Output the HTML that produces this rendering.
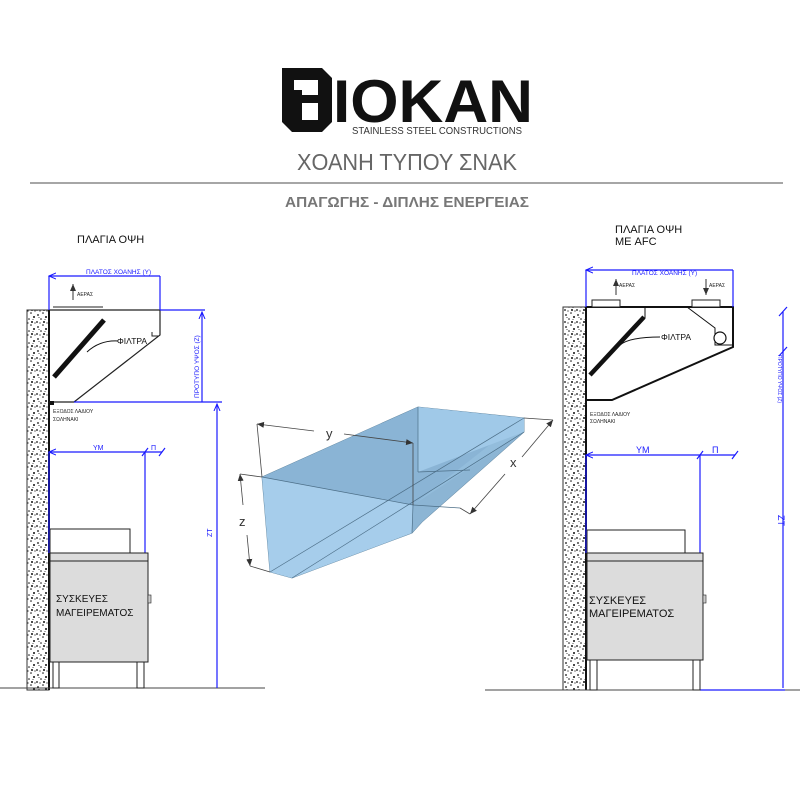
<!DOCTYPE html>
<html><head><meta charset="utf-8"><style>
body{margin:0;background:#fff}
svg{display:block}
text{font-family:"Liberation Sans","DejaVu Sans",sans-serif}
</style></head><body>
<svg width="800" height="800" viewBox="0 0 800 800" xmlns="http://www.w3.org/2000/svg">
<defs>
<pattern id="sp" width="12" height="12" patternUnits="userSpaceOnUse">
<rect width="12" height="12" fill="#fff"/>
<circle cx="2" cy="3" r="0.9" fill="#111"/><circle cx="7" cy="1" r="0.8" fill="#111"/>
<circle cx="10" cy="5" r="1" fill="#111"/><circle cx="5" cy="7" r="0.8" fill="#111"/>
<circle cx="1" cy="10" r="0.9" fill="#111"/><circle cx="8" cy="10" r="1" fill="#111"/>
<circle cx="11" cy="11" r="0.6" fill="#111"/><circle cx="4" cy="11" r="0.6" fill="#111"/>
<circle cx="3" cy="5.5" r="0.5" fill="#111"/><circle cx="9" cy="7.5" r="0.5" fill="#111"/>
</pattern>
<marker id="ab" markerWidth="8" markerHeight="8" refX="7" refY="4" orient="auto-start-reverse" markerUnits="userSpaceOnUse"><path d="M0,1 L7,4 L0,7" fill="none" stroke="#1a1aff" stroke-width="1"/></marker>
<marker id="ak" markerWidth="8" markerHeight="8" refX="7" refY="4" orient="auto-start-reverse" markerUnits="userSpaceOnUse"><path d="M0,1 L7,4 L0,7 z" fill="#333"/></marker>
</defs>

<!-- Logo -->
<path d="M282,68 H322 L332,78 V122 L322,132 H292 L282,122 Z" fill="#111"/>
<rect x="294" y="80" width="8" height="10" fill="#fff"/>
<path d="M302,80 H318 V95 H302Z M302,103 H318 V120 H302Z" fill="#fff"/>
<text x="333" y="122" font-size="60" font-weight="bold" fill="#111" textLength="200" lengthAdjust="spacingAndGlyphs">IOKAN</text>
<text x="352" y="134" font-size="10" fill="#333" textLength="170" lengthAdjust="spacingAndGlyphs">STAINLESS STEEL CONSTRUCTIONS</text>
<text x="407" y="170" font-size="23" fill="#666" text-anchor="middle" textLength="220" lengthAdjust="spacingAndGlyphs">ΧΟΑΝΗ ΤΥΠΟΥ ΣΝΑΚ</text>
<line x1="30" y1="183" x2="783" y2="183" stroke="#888" stroke-width="1.5"/>
<text x="407" y="207" font-size="15" font-weight="bold" fill="#777" text-anchor="middle" textLength="244" lengthAdjust="spacingAndGlyphs">ΑΠΑΓΩΓΗΣ - ΔΙΠΛΗΣ ΕΝΕΡΓΕΙΑΣ</text>

<!-- LEFT DRAWING -->
<text x="77" y="243" font-size="11" fill="#111">ΠΛΑΓΙΑ ΟΨΗ</text>
<rect x="27" y="310" width="22" height="380" fill="url(#sp)" stroke="#333"/>
<line x1="49" y1="310" x2="49" y2="690" stroke="#111" stroke-width="2"/>
<line x1="0" y1="688" x2="265" y2="688" stroke="#444"/>
<path d="M49,310 H160 V335 L74,402 H49" fill="none" stroke="#222" stroke-width="1.2"/>
<path d="M152,332 V336 H158" fill="none" stroke="#222"/>
<line x1="54" y1="377" x2="104" y2="320" stroke="#111" stroke-width="5"/>
<path d="M87,352 Q100,340 118,341" fill="none" stroke="#111"/>
<text x="117" y="344" font-size="8.5" fill="#111">ΦΙΛΤΡΑ</text>
<line x1="53" y1="307" x2="103" y2="307" stroke="#222"/>
<line x1="73" y1="300" x2="73" y2="284" stroke="#333" marker-end="url(#ak)"/>
<text x="77" y="296" font-size="5" fill="#222">ΑΕΡΑΣ</text>
<text x="53" y="413" font-size="5" fill="#222">ΕΞΟΔΟΣ ΛΑΔΙΟΥ</text>
<text x="53" y="421" font-size="5" fill="#222">ΣΩΛΗΝΑΚΙ</text>
<rect x="50" y="401" width="4" height="4" fill="#111"/>
<g stroke="#1a1aff" fill="none" stroke-width="1.2">
<line x1="49" y1="276" x2="160" y2="276" marker-start="url(#ab)"/>
<line x1="49" y1="276" x2="49" y2="310"/><line x1="160" y1="276" x2="160" y2="310"/>
<line x1="160" y1="310" x2="205" y2="310"/><line x1="74" y1="402" x2="222" y2="402"/>
<line x1="202" y1="312" x2="202" y2="402" marker-start="url(#ab)"/>
<line x1="217" y1="404" x2="217" y2="688" marker-start="url(#ab)"/>
<line x1="49" y1="452" x2="145" y2="452" marker-start="url(#ab)"/>
<line x1="145" y1="452" x2="162" y2="452"/>
<line x1="145" y1="452" x2="145" y2="553"/><line x1="49" y1="452" x2="49" y2="553"/>
<line x1="142" y1="456" x2="148" y2="448"/><line x1="159" y1="456" x2="165" y2="448"/>
</g>
<text x="86" y="274" font-size="6.5" fill="#1a1aff">ΠΛΑΤΟΣ ΧΟΑΝΗΣ (Υ)</text>
<text transform="translate(199,398) rotate(-90)" font-size="6.5" fill="#1a1aff">ΠΡΟΤΥΠΟ ΥΨΟΣ (Ζ)</text>
<text transform="translate(212,537) rotate(-90)" font-size="7" fill="#1a1aff">ΖΤ</text>
<text x="93" y="450" font-size="7" fill="#1a1aff">ΥΜ</text>
<text x="151" y="450" font-size="7" fill="#1a1aff">Π</text>
<rect x="50" y="529" width="80" height="24" fill="#fff" stroke="#222"/>
<rect x="50" y="553" width="98" height="109" fill="#dcdcdc" stroke="#222"/>
<line x1="50" y1="561" x2="148" y2="561" stroke="#222"/>
<rect x="148" y="595" width="3" height="8" fill="#ccc" stroke="#222" stroke-width="0.6"/>
<rect x="53" y="662" width="6" height="26" fill="#fff" stroke="#222"/>
<rect x="137" y="662" width="7" height="26" fill="#fff" stroke="#222"/>
<text x="56" y="602" font-size="10" fill="#111">ΣΥΣΚΕΥΕΣ</text>
<text x="56" y="616" font-size="10" fill="#111">ΜΑΓΕΙΡΕΜΑΤΟΣ</text>

<!-- CENTER 3D -->
<polygon points="262,477 418,407 524,418 524,432 422,522 412,533 292,578 270,572" fill="#93bddc" stroke="#5a7f99" stroke-width="0.8"/>
<polygon points="262,477 418,407 524,418 413,505" fill="#8ab4d5"/>
<polygon points="418,407 524,418 524,432 418,472" fill="#a0c9e8"/>
<polygon points="262,477 413,505 412,533 292,578 270,572" fill="#a6cdeb"/>
<polygon points="413,505 524,432 422,522 412,533" fill="#8cb5d4"/>
<g stroke="#4d6f88" stroke-width="0.7" fill="none">
<line x1="262" y1="477" x2="413" y2="505"/><line x1="413" y1="505" x2="412" y2="533"/>
<line x1="418" y1="407" x2="418" y2="472"/><line x1="418" y1="472" x2="470" y2="470"/>
<line x1="270" y1="572" x2="524" y2="418"/><line x1="292" y1="578" x2="524" y2="432"/>
<line x1="413" y1="505" x2="460" y2="508"/>
</g>
<g stroke="#444" stroke-width="0.8" fill="none">
<line x1="257" y1="424" x2="262" y2="477"/>
<line x1="257" y1="424" x2="314" y2="431" marker-start="url(#ak)"/>
<line x1="344" y1="434" x2="413" y2="443" marker-end="url(#ak)"/>
<line x1="413" y1="443" x2="413" y2="505"/>
<line x1="524" y1="418" x2="553" y2="420"/><line x1="460" y1="508" x2="470" y2="514"/>
<line x1="470" y1="514" x2="505" y2="474" marker-start="url(#ak)"/>
<line x1="522" y1="457" x2="553" y2="420" marker-end="url(#ak)"/>
<line x1="240" y1="474" x2="262" y2="477"/><line x1="250" y1="566" x2="270" y2="572"/>
<line x1="240" y1="474" x2="243" y2="505" marker-start="url(#ak)"/>
<line x1="247" y1="535" x2="250" y2="566" marker-end="url(#ak)"/>
</g>
<text x="326" y="438" font-size="13" fill="#333">y</text>
<text x="510" y="467" font-size="13" fill="#333">x</text>
<text x="239" y="526" font-size="13" fill="#333">z</text>

<!-- RIGHT DRAWING -->
<text x="615" y="233" font-size="11" fill="#111">ΠΛΑΓΙΑ ΟΨΗ</text>
<text x="615" y="245" font-size="11" fill="#111">ΜΕ AFC</text>
<rect x="563" y="307" width="23" height="383" fill="url(#sp)" stroke="#333"/>
<line x1="586" y1="307" x2="586" y2="690" stroke="#111" stroke-width="2"/>
<line x1="485" y1="690" x2="800" y2="690" stroke="#444"/>
<path d="M586,307 H733 V347 L612,400 H586" fill="none" stroke="#111" stroke-width="2"/>
<rect x="592" y="300" width="28" height="7" fill="#fff" stroke="#222"/>
<rect x="692" y="300" width="28" height="7" fill="#fff" stroke="#222"/>
<line x1="590" y1="375" x2="644" y2="317" stroke="#111" stroke-width="4.5"/>
<line x1="645" y1="307" x2="645" y2="318" stroke="#111"/>
<path d="M620,345 Q630,337 660,337" fill="none" stroke="#111"/>
<text x="661" y="340" font-size="8.5" fill="#111">ΦΙΛΤΡΑ</text>
<path d="M687,307 L715,328 V345 H733" fill="none" stroke="#111"/>
<circle cx="720" cy="338" r="6" fill="#fff" stroke="#111" stroke-width="1.2"/>
<line x1="616" y1="295" x2="616" y2="279" stroke="#333" marker-end="url(#ak)"/>
<text x="619" y="287" font-size="5" fill="#222">ΑΕΡΑΣ</text>
<line x1="706" y1="279" x2="706" y2="295" stroke="#333" marker-end="url(#ak)"/>
<text x="709" y="287" font-size="5" fill="#222">ΑΕΡΑΣ</text>
<text x="590" y="416" font-size="5" fill="#222">ΕΞΟΔΟΣ ΛΑΔΙΟΥ</text>
<text x="590" y="423" font-size="5" fill="#222">ΣΩΛΗΝΑΚΙ</text>
<g stroke="#1a1aff" fill="none" stroke-width="1.2">
<line x1="586" y1="270" x2="733" y2="270" marker-start="url(#ab)"/>
<line x1="586" y1="270" x2="586" y2="307"/><line x1="733" y1="270" x2="733" y2="307"/>
<line x1="783" y1="312" x2="783" y2="688"/>
<line x1="779" y1="316" x2="787" y2="307"/><line x1="779" y1="356" x2="787" y2="347"/>
<line x1="700" y1="690" x2="785" y2="690"/>
<line x1="586" y1="455" x2="700" y2="455" marker-start="url(#ab)"/>
<line x1="700" y1="455" x2="735" y2="455"/>
<line x1="700" y1="455" x2="700" y2="553"/><line x1="586" y1="455" x2="586" y2="553"/>
<line x1="697" y1="459" x2="703" y2="451"/><line x1="732" y1="459" x2="738" y2="451"/>
</g>
<text x="632" y="275" font-size="6.5" fill="#1a1aff">ΠΛΑΤΟΣ ΧΟΑΝΗΣ (Υ)</text>
<text transform="translate(778,355) rotate(90)" font-size="5" fill="#1a1aff" textLength="48" lengthAdjust="spacingAndGlyphs">ΠΡΟΤΥΠΟ ΥΨΟΣ (Ζ)</text>
<text transform="translate(778,515) rotate(90)" font-size="9" fill="#1a1aff">ΖΤ</text>
<text x="636" y="453" font-size="9" fill="#1a1aff">ΥΜ</text>
<text x="712" y="453" font-size="9" fill="#1a1aff">Π</text>
<rect x="587" y="530" width="98" height="23" fill="#fff" stroke="#222"/>
<rect x="587" y="553" width="116" height="107" fill="#dcdcdc" stroke="#222"/>
<line x1="587" y1="561" x2="703" y2="561" stroke="#222"/>
<rect x="703" y="595" width="3" height="8" fill="#ccc" stroke="#222" stroke-width="0.6"/>
<rect x="590" y="660" width="7" height="30" fill="#fff" stroke="#222"/>
<rect x="693" y="660" width="7" height="30" fill="#fff" stroke="#222"/>
<text x="589" y="604" font-size="11" fill="#111">ΣΥΣΚΕΥΕΣ</text>
<text x="589" y="617" font-size="11" fill="#111">ΜΑΓΕΙΡΕΜΑΤΟΣ</text>
</svg>
</body></html>
